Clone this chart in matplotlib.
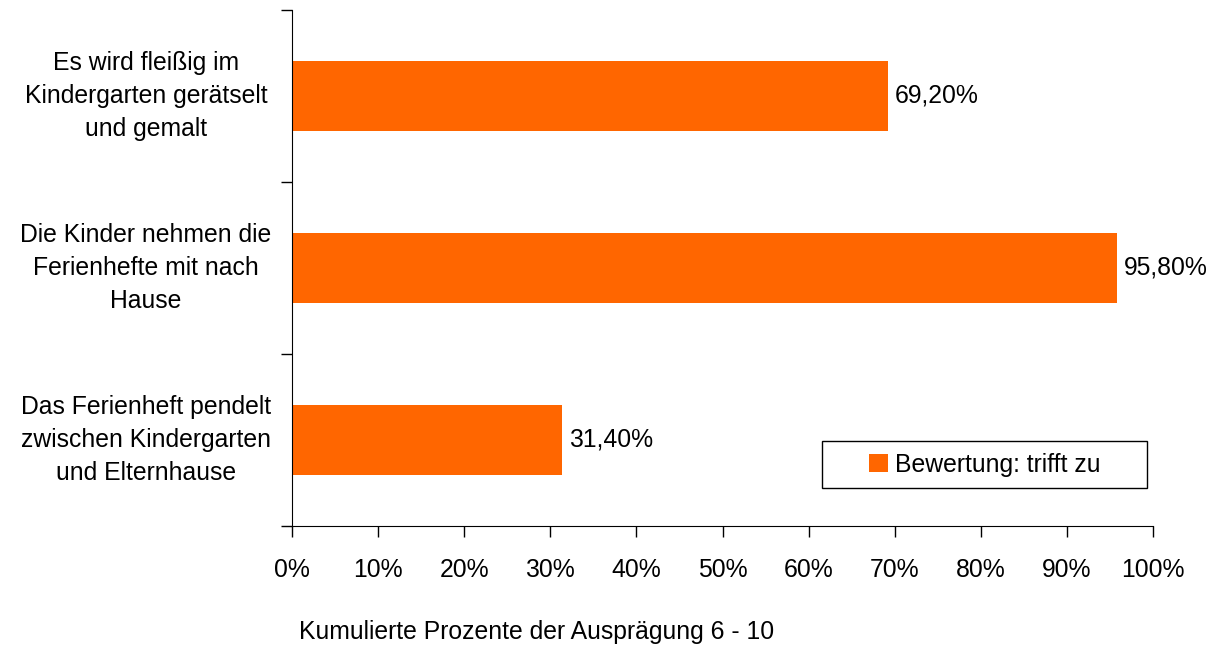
import matplotlib
matplotlib.use("Agg")
import matplotlib.pyplot as plt
from matplotlib.patches import Rectangle
from matplotlib.transforms import blended_transform_factory

plt.rcParams['font.family'] = ['Liberation Sans', 'DejaVu Sans']

categories = [
    "Das Ferienheft pendelt\nzwischen Kindergarten\nund Elternhause",
    "Die Kinder nehmen die\nFerienhefte mit nach\nHause",
    "Es wird fleißig im\nKindergarten gerätselt\nund gemalt",
]
values = [31.4, 95.8, 69.2]
value_labels = ["31,40%", "95,80%", "69,20%"]
xticks = list(range(0, 101, 10))
xtick_labels = [f"{t}%" for t in xticks]

fs = 17.8
fig = plt.figure(figsize=(12.12, 6.46), dpi=100)
ax = fig.add_axes([292 / 1212, 1 - 526 / 646, (1153 - 292) / 1212, (526 - 10) / 646])

bar_color = "#FF6600"
ax.barh(range(len(values)), values, height=0.41, color=bar_color,
        label="Bewertung: trifft zu")

for i, (v, lab) in enumerate(zip(values, value_labels)):
    ax.text(v + 0.8, i, lab, va="center", ha="left", fontsize=fs)

ax.set_xlim(0, 100)
ax.set_ylim(-0.5, 2.5)
ax.set_xticks(xticks)
ax.set_xticklabels(xtick_labels, fontsize=fs)
ax.set_yticks([-0.5, 0.5, 1.5, 2.5])
ax.set_yticklabels([])
ax.tick_params(axis="x", length=8, width=1, pad=15)
ax.tick_params(axis="y", length=8, width=1)

# category labels, centred left of the axis
trans = blended_transform_factory(fig.transFigure, ax.transData)
for i, c in enumerate(categories):
    fig.text(146 / 1212, i, c, ha="center", va="center", fontsize=fs,
             linespacing=1.48, transform=trans)

ax.spines["top"].set_visible(False)
ax.spines["right"].set_visible(False)
ax.spines["left"].set_color("black")
ax.spines["bottom"].set_color("black")

fig.text(537 / 1212, 1 - 632 / 646, "Kumulierte Prozente der Ausprägung 6 - 10",
         ha="center", va="center", fontsize=fs)

# legend box drawn as a plain rectangle, entry centred inside
fig.patches.append(Rectangle((822 / 1212, 1 - 488 / 646), (1147 - 822) / 1212, 47 / 646,
                             transform=fig.transFigure, fill=False,
                             edgecolor="black", linewidth=1))
ax.legend(loc="center", bbox_to_anchor=(985 / 1212, 1 - 465 / 646),
          bbox_transform=fig.transFigure, fontsize=fs, frameon=False,
          handlelength=0.75, handleheight=0.75, handletextpad=0.3)

fig.savefig("out.png", dpi=100)
